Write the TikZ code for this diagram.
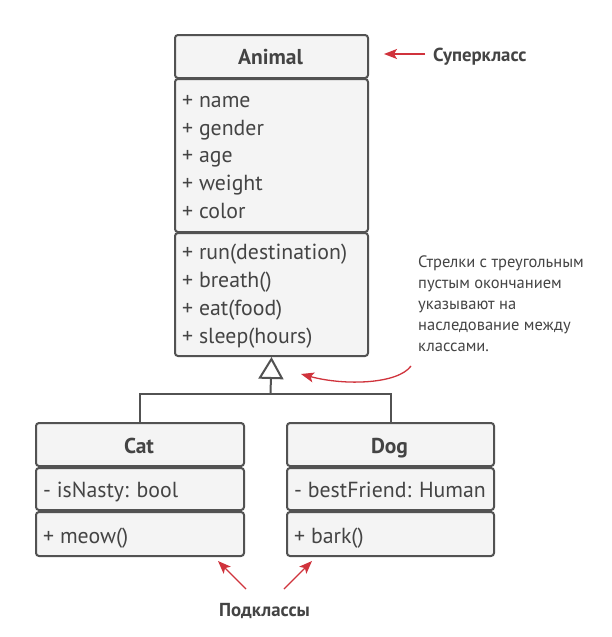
\documentclass[tikz,border=0pt]{standalone}
\usepackage{fontspec}
\setmainfont{PT Sans}
\usetikzlibrary{arrows.meta}
\definecolor{ink}{HTML}{444444}
\definecolor{edgec}{HTML}{525252}
\definecolor{fillc}{HTML}{F4F4F4}
\definecolor{redc}{HTML}{D0333C}
\tikzset{
  comp/.style={draw=edgec, fill=fillc, line width=2pt, rounded corners=3pt, inner sep=0pt, anchor=north west},
  member/.style={anchor=base west, inner sep=0pt, font=\fontsize{21.8}{22}\selectfont, text=ink},
  title/.style={anchor=base, inner sep=0pt, font=\fontsize{21.5}{22}\selectfont\bfseries, text=ink},
  note/.style={anchor=north west, inner sep=0pt, font=\fontsize{16.5}{21}\selectfont, text=ink, align=left},
  callout/.style={inner sep=0pt, font=\fontsize{18.8}{19}\selectfont\bfseries, text=ink},
  redarrow/.style={draw=redc, line width=1.3pt, -{Stealth[length=13pt,width=10pt,inset=3pt]}},
  inherit/.style={draw=edgec, line width=2pt},
}
\begin{document}
\begin{tikzpicture}[x=1pt,y=-1pt]
\useasboundingbox[fill=white] (0,0) rectangle (612,637);
% Animal
\node[comp, minimum width=193pt, minimum height=43pt] (animal-head) at (174,34) {};
\node[comp, minimum width=193pt, minimum height=153pt] (animal-attrs) at (174,78) {};
\node[comp, minimum width=193pt, minimum height=123pt] (animal-methods) at (174,232) {};
\node[title] (animal-name) at (270.5,64) {Animal};
\node[member] (a1) at (182,107) {+ name};
\node[member] (a2) at (182,135) {+ gender};
\node[member] (a3) at (182,162.5) {+ age};
\node[member] (a4) at (182,190.5) {+ weight};
\node[member] (a5) at (182,218.5) {+ color};
\node[member] (m1) at (182,259) {+ run(destination)};
\node[member] (m2) at (182,287) {+ breath()};
\node[member] (m3) at (182,315) {+ eat(food)};
\node[member] (m4) at (182,343) {+ sleep(hours)};
% Cat
\node[comp, minimum width=208pt, minimum height=43pt] (cat-head) at (35,422) {};
\node[comp, minimum width=208pt, minimum height=42pt] (cat-attrs) at (35,467) {};
\node[comp, minimum width=208pt, minimum height=44pt] (cat-methods) at (35,511) {};
\node[title] (cat-name) at (139,453) {Cat};
\node[member] (c1) at (43,497) {- isNasty: bool};
\node[member] (c2) at (43,543) {+ meow()};
% Dog
\node[comp, minimum width=207pt, minimum height=43pt] (dog-head) at (286,422) {};
\node[comp, minimum width=207pt, minimum height=42pt] (dog-attrs) at (286,467) {};
\node[comp, minimum width=207pt, minimum height=44pt] (dog-methods) at (286,511) {};
\node[title] (dog-name) at (389.5,453) {Dog};
\node[member] (d1) at (294,497) {- bestFriend: Human};
\node[member] (d2) at (294,543) {+ bark()};
% inheritance
\coordinate (junction) at (270.5,394);
\draw[inherit] (cat-head.north) |- (junction);
\draw[inherit] (dog-head.north) |- (junction);
\draw[inherit, -{Triangle[open, length=22pt, width=25pt, line width=2pt]}] (junction) -- (animal-methods.south);
% callouts
\node[callout, anchor=base west] (super) at (433,61) {Суперкласс};
\coordinate (sup-tail) at (425,54);
\coordinate (sup-tip) at (384,54);
\draw[redarrow] (sup-tail) -- (sup-tip);
\node[note] (notetext) at (418,256) {Стрелки с треугольным\\пустым окончанием\\указывают на\\наследование между\\классами.};
\coordinate (note-tail) at (411,366);
\coordinate (note-tip) at (301,374);
\draw[redarrow] (note-tail) .. controls (398,384) and (345,386) .. (note-tip);
\node[callout, anchor=base] (sub) at (264.5,616) {Подклассы};
\coordinate (sub-left-tail) at (246,589);
\coordinate (sub-left-tip) at (218,561);
\coordinate (sub-right-tail) at (284,589);
\coordinate (sub-right-tip) at (312,561);
\draw[redarrow] (sub-left-tail) -- (sub-left-tip);
\draw[redarrow] (sub-right-tail) -- (sub-right-tip);
\end{tikzpicture}
\end{document}
